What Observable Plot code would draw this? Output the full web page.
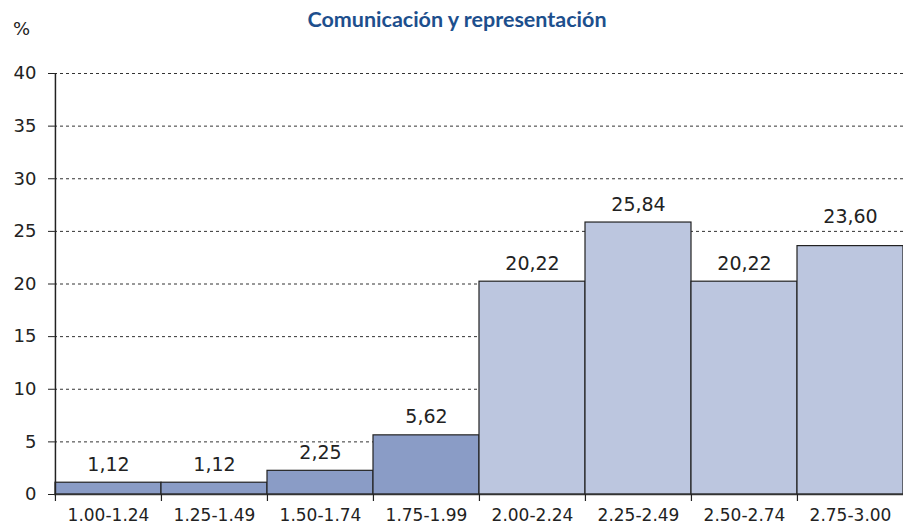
<!DOCTYPE html>
<html><head><meta charset="utf-8">
<script src="https://cdn.jsdelivr.net/npm/d3@7"></script>
<script src="https://cdn.jsdelivr.net/npm/@observablehq/plot@0.6"></script>
<style>
body{margin:0;background:#fff;}
#wrap{position:relative;width:903px;height:525px;}
#title{position:absolute;top:6px;left:0;width:914px;text-align:center;font-family:Lato,"Open Sans",sans-serif;font-weight:bold;font-size:21.5px;color:#1d4f8d;}
#pct{position:absolute;top:18px;left:13px;font-family:"DejaVu Sans",sans-serif;font-size:18px;color:#222;}
</style></head>
<body><div id="wrap"><div id="title">Comunicación y representación</div><div id="pct">%</div></div>
<script>
const categories = ["1.00-1.24","1.25-1.49","1.50-1.74","1.75-1.99","2.00-2.24","2.25-2.49","2.50-2.74","2.75-3.00"];
const values = [1.12, 1.12, 2.25, 5.62, 20.22, 25.84, 20.22, 23.60];
const groups = ["a","a","a","a","b","b","b","b"];
const yTicks = [0,5,10,15,20,25,30,35,40];
const gridTicks = [5,10,15,20,25,30,35,40];

const data = categories.map((c,i)=>({cat:c, v:values[i], g:groups[i], i}));
const W = 903, H = 525, mL = 54, mR = 0;
const bw = (W - mL - mR) / categories.length;
const fmt = v => v.toFixed(2).replace(".", ",");
const last = data.length - 1;

const chart = Plot.plot({
  width: W, height: H,
  marginTop: 73, marginBottom: 31, marginLeft: 54, marginRight: 0,
  style: {fontFamily: "'DejaVu Sans', Verdana, sans-serif", color: "#222", background: "transparent"},
  x: {domain: categories, padding: 0, label: null},
  y: {domain: [0, 40], label: null},
  color: {domain: ["a","b"], range: ["#8a9cc6", "#bcc6df"]},
  marks: [
    Plot.ruleY(gridTicks, {stroke: "#333", strokeDasharray: "3,3", strokeWidth: 1}),
    Plot.barY(data, {x: "cat", y: "v", fill: "g", stroke: "#222", strokeWidth: 1.2}),
    Plot.ruleY([0], {stroke: "#333", strokeWidth: 1.5}),
    Plot.ruleX([categories[0]], {dx: -bw/2, y1: 0, y2: 40, stroke: "#222", strokeWidth: 1.5}),
    Plot.ruleX(categories, {x: d => d, dx: -bw/2, y1: 0, y2: 0, insetBottom: -7, stroke: "#222", strokeWidth: 1.2}),
    Plot.text(data.filter(d => d.i !== last), {x: "cat", y: "v", text: d => fmt(d.v), dy: -18, fontSize: 19, fill: "#222"}),
    Plot.text(data.filter(d => d.i === last), {x: "cat", y: "v", text: d => fmt(d.v), dy: -29, fontSize: 19, fill: "#222"}),
    Plot.axisY(yTicks, {tickSize: 6, tickPadding: 12, fontSize: 18, stroke: "#222"}),
    Plot.axisX({tickSize: 0, tickPadding: 14, fontSize: 17})
  ]
});
chart.style.position = "absolute";
chart.style.left = "0px";
chart.style.top = "0px";
document.getElementById("wrap").appendChild(chart);
</script></body></html>
